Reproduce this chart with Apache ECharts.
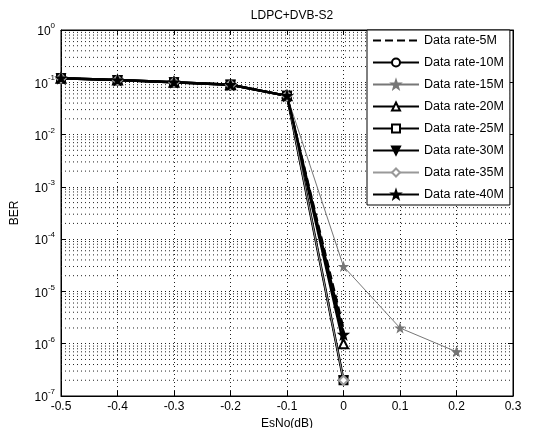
<!DOCTYPE html>
<html>
<head>
<meta charset="utf-8">
<script src="https://cdn.jsdelivr.net/npm/echarts@6/dist/echarts.min.js"></script>
<style>html,body{margin:0;padding:0;background:#fff;}#c{width:533px;height:428px;}</style>
</head>
<body>
<div id="c"></div>
<script>
// ---- data ----
const xValues = [-0.5, -0.4, -0.3, -0.2, -0.1, 0];
const xValuesExt = [-0.5, -0.4, -0.3, -0.2, -0.1, 0, 0.1, 0.2];
const rate5M  = [0.12, 0.11, 0.10, 0.09, 0.055, 2e-6];
const rate10M = [0.12, 0.11, 0.10, 0.09, 0.055, 2e-7];
const rate15M = [0.12, 0.11, 0.10, 0.09, 0.055, 3e-5, 2e-6, 7e-7];
const rate20M = [0.12, 0.11, 0.10, 0.09, 0.055, 1e-6];
const rate25M = [0.12, 0.11, 0.10, 0.09, 0.055, 2e-7];
const rate30M = [0.12, 0.11, 0.10, 0.09, 0.055, 2e-7];
const rate35M = [0.12, 0.11, 0.10, 0.09, 0.055, 2e-7];
const rate40M = [0.12, 0.11, 0.10, 0.09, 0.055, 1.5e-6];
const seriesNames = ['Data rate-5M','Data rate-10M','Data rate-15M','Data rate-20M','Data rate-25M','Data rate-30M','Data rate-35M','Data rate-40M'];
const xTicks = [-0.5, -0.4, -0.3, -0.2, -0.1, 0, 0.1, 0.2, 0.3];
const yExponents = [0, -1, -2, -3, -4, -5, -6, -7];
const titleText = 'LDPC+DVB-S2';
const xName = 'EsNo(dB)';
const yName = 'BER';

// ---- helpers ----
function pairs(xs, ys) { return ys.map((y, i) => [xs[i], y]); }
const star = 'path://M0,-10 L2.35,-3.24 L9.51,-3.09 L3.8,1.24 L5.88,8.09 L0,4 L-5.88,8.09 L-3.8,1.24 L-9.51,-3.09 L-2.35,-3.24 Z';
const minorVals = [];
for (let e = -7; e <= -1; e++) for (let m = 2; m <= 9; m++) minorVals.push(m * Math.pow(10, e));
const FONT = 'Liberation Sans';
const xMin = xTicks[0], xMax = xTicks[xTicks.length - 1];

const styles = [
  {data: pairs(xValues, rate5M),  color: '#000', width: 2,   type: 'dashed', symbol: 'none', size: 0},
  {data: pairs(xValues, rate10M), color: '#000', width: 1.5, type: 'solid', symbol: 'emptyCircle', size: 7},
  {data: pairs(xValuesExt, rate15M), color: '#777', width: 1, type: 'solid', symbol: star, size: 8},
  {data: pairs(xValues, rate20M), color: '#000', width: 2.5, type: 'solid', symbol: 'emptyTriangle', size: 9},
  {data: pairs(xValues, rate25M), color: '#000', width: 2.5, type: 'solid', symbol: 'emptyRect', size: 8},
  {data: pairs(xValues, rate30M), color: '#000', width: 1.5, type: 'solid', symbol: 'triangle', size: 9, rotate: 180},
  {data: pairs(xValues, rate35M), color: '#999', width: 1,   type: 'solid', symbol: 'emptyDiamond', size: 9},
  {data: pairs(xValues, rate40M), color: '#000', width: 2.5, type: 'solid', symbol: star, size: 10}
];

const series = [];
// minor grid lines (MATLAB-style log grid), drawn first, behind the data
minorVals.forEach(v => {
  series.push({
    type: 'line', data: [[xMin, v], [xMax, v]], silent: true, animation: false,
    symbol: 'none', showSymbol: false, z: 1,
    lineStyle: {color: '#222', width: 1, type: [1, 3]},
    emphasis: {disabled: true}, tooltip: {show: false}
  });
});

styles.forEach((s, i) => series.push({
  name: seriesNames[i],
  type: 'line',
  data: s.data,
  symbol: s.symbol,
  symbolSize: s.size,
  symbolRotate: s.rotate || 0,
  showSymbol: s.symbol !== 'none',
  lineStyle: {color: s.color, width: s.width, type: s.type},
  itemStyle: {color: s.color, borderColor: s.color, borderWidth: 1.2},
  emphasis: {disabled: true},
  animation: false,
  z: 3
}));

const legendData = seriesNames.map((n, i) => i === 0 ? {name: n, itemStyle: {opacity: 0}} : {name: n});

const chart = echarts.init(document.getElementById('c'), null, {renderer: 'canvas'});
chart.setOption({
  backgroundColor: '#fff',
  animation: false,
  title: {
    text: titleText, left: 287, top: 5, textAlign: 'center',
    textStyle: {fontFamily: FONT, fontSize: 12, fontWeight: 'normal', color: '#000'}
  },
  grid: {left: 61, right: 20, top: 30, bottom: 32, show: true, borderColor: '#000', borderWidth: 1, backgroundColor: 'transparent', containLabel: false, outerBoundsMode: 'none'},
  legend: {
    orient: 'vertical', left: 367, top: 30,
    data: legendData,
    itemWidth: 46, itemHeight: 10, itemGap: 9,
    padding: [4, 6, 4, 5],
    backgroundColor: '#fff', borderColor: '#000', borderWidth: 1,
    textStyle: {fontFamily: FONT, fontSize: 12.5, color: '#000'},
    selectedMode: false, z: 10
  },
  xAxis: [{
    type: 'value', min: xMin, max: xMax, interval: 0.1,
    name: xName, nameLocation: 'middle', nameGap: 16,
    nameTextStyle: {fontFamily: FONT, fontSize: 12, color: '#000'},
    axisLine: {show: true, onZero: false, lineStyle: {color: '#000'}},
    axisTick: {show: true, inside: true, length: 5, lineStyle: {color: '#000'}},
    axisLabel: {fontFamily: FONT, fontSize: 12, color: '#000', margin: 5,
      formatter: v => { const t = xTicks.find(k => Math.abs(k - v) < 1e-9); return t === undefined ? '' : String(Math.round(t * 10) / 10); }},
    splitLine: {show: true, lineStyle: {color: '#222', width: 1, type: [1, 3]}}
  }, {
    type: 'value', min: xMin, max: xMax, interval: 0.1, position: 'top',
    axisLine: {show: true, onZero: false, lineStyle: {color: '#000'}},
    axisTick: {show: true, inside: true, length: 5, lineStyle: {color: '#000'}},
    axisLabel: {show: false}, splitLine: {show: false}
  }],
  yAxis: [{
    type: 'log', logBase: 10, min: 1e-7, max: 1,
    name: yName, nameLocation: 'middle', nameGap: 40, nameRotate: 90,
    nameTextStyle: {fontFamily: FONT, fontSize: 12, color: '#000'},
    axisLine: {show: true, onZero: false, lineStyle: {color: '#000'}},
    axisTick: {show: true, inside: true, length: 5, lineStyle: {color: '#000'}},
    minorTick: {show: false},
    axisLabel: {
      margin: 6,
      formatter: v => {
        const e = Math.round(Math.log10(v));
        if (yExponents.indexOf(e) < 0) return '';
        return '{b|10}{s|' + e + '}';
      },
      rich: {
        b: {fontFamily: FONT, fontSize: 12, color: '#000', verticalAlign: 'bottom'},
        s: {fontFamily: FONT, fontSize: 8, color: '#000', verticalAlign: 'bottom', padding: [0, 0, 8, 0]}
      }
    },
    splitLine: {show: true, lineStyle: {color: '#222', width: 1, type: [1, 3]}}
  }, {
    type: 'log', logBase: 10, min: 1e-7, max: 1, position: 'right',
    axisLine: {show: true, onZero: false, lineStyle: {color: '#000'}},
    axisTick: {show: true, inside: true, length: 5, lineStyle: {color: '#000'}},
    axisLabel: {show: false}, splitLine: {show: false}
  }],
  series: series
});
</script>
</body>
</html>
